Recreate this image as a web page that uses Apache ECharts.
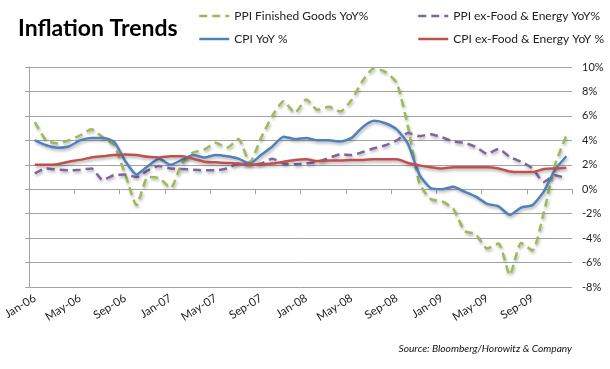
<!DOCTYPE html>
<html><head><meta charset="utf-8">
<script src="https://cdn.jsdelivr.net/npm/echarts@6/dist/echarts.min.js"></script>
<style>html,body{margin:0;padding:0;background:#fff}#c{width:610px;height:369px}</style>
</head><body><div id="c"></div>
<script>
const categories = [
 'Jan-06','Feb-06','Mar-06','Apr-06','May-06','Jun-06','Jul-06','Aug-06','Sep-06','Oct-06','Nov-06','Dec-06',
 'Jan-07','Feb-07','Mar-07','Apr-07','May-07','Jun-07','Jul-07','Aug-07','Sep-07','Oct-07','Nov-07','Dec-07',
 'Jan-08','Feb-08','Mar-08','Apr-08','May-08','Jun-08','Jul-08','Aug-08','Sep-08','Oct-08','Nov-08','Dec-08',
 'Jan-09','Feb-09','Mar-09','Apr-09','May-09','Jun-09','Jul-09','Aug-09','Sep-09','Oct-09','Nov-09','Dec-09'
];
const ppiFinished = [5.5,4.0,3.75,4.0,4.4,4.9,4.25,3.6,1.2,-1.3,1.0,0.9,
 0.1,2.1,3.0,3.25,3.8,3.4,4.1,2.2,4.2,6.0,7.2,6.25,
 7.35,6.5,6.75,6.35,7.3,8.9,9.9,9.6,8.7,5.1,0.5,-0.8,
 -1.0,-1.6,-3.4,-3.7,-4.85,-4.45,-7.0,-4.4,-5.0,-1.9,2.0,4.4];
const ppiCore = [1.3,1.7,1.6,1.55,1.6,1.7,0.75,1.15,1.2,1.0,1.55,1.9,
 1.7,1.65,1.6,1.55,1.55,1.7,2.1,2.0,2.1,2.5,2.1,2.05,
 2.1,2.25,2.55,2.85,2.8,3.05,3.35,3.6,4.0,4.6,4.35,4.5,
 4.25,3.9,3.8,3.45,2.9,3.3,2.65,2.25,1.7,0.6,1.15,0.9];
const cpi = [4.0,3.6,3.4,3.5,4.0,4.2,4.2,3.9,2.3,1.2,1.9,2.5,
 2.0,2.4,2.8,2.6,2.8,2.7,2.5,2.1,2.8,3.5,4.3,4.1,
 4.2,4.0,4.0,3.9,4.2,5.1,5.6,5.4,4.9,3.7,1.2,0.1,
 0.0,0.2,-0.2,-0.6,-1.2,-1.4,-2.1,-1.5,-1.3,-0.2,1.6,2.7];
const cpiCore = [2.0,2.0,2.05,2.25,2.4,2.6,2.7,2.8,2.85,2.8,2.65,2.6,
 2.7,2.7,2.5,2.25,2.2,2.15,2.1,2.0,2.05,2.1,2.25,2.4,
 2.45,2.3,2.35,2.35,2.4,2.4,2.45,2.45,2.45,2.15,1.95,1.8,
 1.7,1.8,1.8,1.8,1.8,1.7,1.45,1.4,1.4,1.65,1.7,1.75];
const seriesNames = ['PPI Finished Goods YoY%','PPI ex-Food & Energy YoY%','CPI YoY %','CPI ex-Food & Energy YoY %'];
const yMin = -8, yMax = 10, yStep = 2;

const FONT = 'Lato';
const GRID = '#a3a3a3';
const shadow = {shadowColor:'rgba(0,0,0,0.3)', shadowBlur:3, shadowOffsetX:1, shadowOffsetY:2};
function mk(name, data, color, dashed){
  return {name, type:'line', data, xAxisIndex:0, yAxisIndex:1, symbol:'none', smooth:0.2,
    lineStyle:Object.assign({color, width:2.5, type: dashed ? [8,5] : 'solid'}, shadow),
    itemStyle:{color}};
}
const legendCommon = {orient:'vertical', top:5, itemWidth:30, itemHeight:10, itemGap:11,
  itemStyle:{opacity:0, borderWidth:0},
  lineStyle:{width:2.5, shadowBlur:0, shadowOffsetX:0, shadowOffsetY:0},
  textStyle:{fontFamily:FONT, fontSize:12, color:'#222'}};
const chart = echarts.init(document.getElementById('c'));
chart.setOption({
  animation:false,
  textStyle:{fontFamily:FONT},
  title:[
    {text:'Inflation Trends', left:13, top:12, textStyle:{fontFamily:FONT, fontWeight:'bold', fontSize:23, color:'#000'}},
    {text:'Source: Bloomberg/Horowitz & Company', right:38, top:344, padding:0, textStyle:{fontFamily:FONT, fontStyle:'italic', fontWeight:'normal', fontSize:10.2, color:'#111'}}
  ],
  legend:[
    Object.assign({data:[seriesNames[0], seriesNames[2]], left:193}, legendCommon),
    Object.assign({data:[seriesNames[1], seriesNames[3]], left:412}, legendCommon)
  ],
  grid:{left:25, right:38, top:67, bottom:82, containLabel:false},
  xAxis:[
    {type:'category', data:categories, boundaryGap:true,
     axisLine:{show:true, onZero:true, lineStyle:{color:GRID, width:1}},
     axisTick:{show:true, interval:3, length:5, lineStyle:{color:GRID}},
     axisLabel:{show:false}, splitLine:{show:false}},
    {type:'category', data:categories, boundaryGap:true, position:'bottom',
     axisLine:{show:false, onZero:false}, axisTick:{show:false},
     axisLabel:{show:true, interval:3, rotate:32, margin:10, fontFamily:FONT, fontSize:11.5, color:'#222'},
     splitLine:{show:false}}
  ],
  yAxis:[
    {type:'value', position:'left', min:yMin, max:yMax, interval:yStep,
     axisLine:{show:true, lineStyle:{color:GRID}}, axisTick:{show:true, length:4, lineStyle:{color:GRID}},
     axisLabel:{show:false}, splitLine:{show:false}},
    {type:'value', position:'right', min:yMin, max:yMax, interval:yStep,
     axisLine:{show:false}, axisTick:{show:false},
     axisLabel:{show:true, formatter:'{value}%', margin:10, fontFamily:FONT, fontSize:11, color:'#222'},
     splitLine:{show:true, lineStyle:{color:GRID, width:1}}}
  ],
  series:[
    mk(seriesNames[0], ppiFinished, '#9bbb59', true),
    mk(seriesNames[1], ppiCore, '#8064a2', true),
    mk(seriesNames[2], cpi, '#4f81bd', false),
    mk(seriesNames[3], cpiCore, '#c0504d', false)
  ]
});
</script></body></html>
